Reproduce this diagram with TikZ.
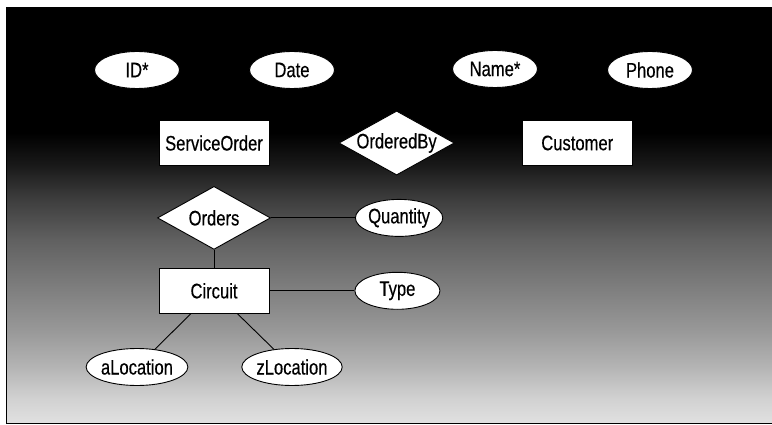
\documentclass[tikz,border=0pt]{standalone}
\usepackage{fontspec}
\setmainfont{Liberation Sans}[FakeStretch=0.79, FakeBold=0.4]
\usepackage{tikz}
\usetikzlibrary{shapes.geometric, positioning}
\pgfdeclareverticalshading{dusk}{100bp}{color(0bp)=(black!12); color(25bp)=(black!12); color(28bp)=(black!18); color(32bp)=(black!30); color(36bp)=(black!40); color(41bp)=(black!50); color(47bp)=(black!62); color(52bp)=(black!76); color(56bp)=(black!90); color(60bp)=(black); color(100bp)=(black)}

\begin{document}
\begin{tikzpicture}[x=1pt, y=-1pt, line width=0.9pt,
    font=\fontsize{21}{23}\selectfont,
    entity/.style={draw, fill=white, rectangle, minimum width=110pt, minimum height=45pt, inner sep=0pt},
    attrib/.style={draw, fill=white, ellipse, minimum width=85pt, minimum height=37pt, inner sep=0pt},
    relship/.style={draw, fill=white, diamond, aspect=1.8, minimum width=113pt, minimum height=63pt, inner sep=0pt}]
    % Backdrop
    \useasboundingbox (0,0) rectangle (772,425);
    \fill[white] (0,0) rectangle (772,425);
    \shade[shading=dusk, draw=black, line width=0.8pt] (6,8) rectangle (772,423);

    % Nodes
    \node[attrib] (id) at (137,70) {ID*};
    \node[attrib] (date) at (292,70) {Date};
    \node[attrib] (name) at (495,69) {Name*};
    \node[attrib] (phone) at (650,70) {Phone};
    \node[entity] (so) at (214,143) {ServiceOrder};
    \node[relship, right=69pt of so] (ordby) {OrderedBy};
    \node[entity, right=67pt of ordby] (cust) {Customer};
    \node[relship, below=20pt of so] (orders) {Orders};
    \node[attrib, right=84pt of orders] (qty) {Quantity};
    \node[entity, below=18pt of orders] (circ) {Circuit};
    \node[attrib, right=85pt of circ] (type) {Type};
    \node[attrib] (aloc) at (137,367) {aLocation};
    \node[attrib] (zloc) at (292,367) {zLocation};

    % Lines
    \draw (orders) -- (qty);
    \draw (orders) -- (circ);
    \draw (circ) -- (type);
    \draw (circ) -- (aloc);
    \draw (circ) -- (zloc);
\end{tikzpicture}
\end{document}
